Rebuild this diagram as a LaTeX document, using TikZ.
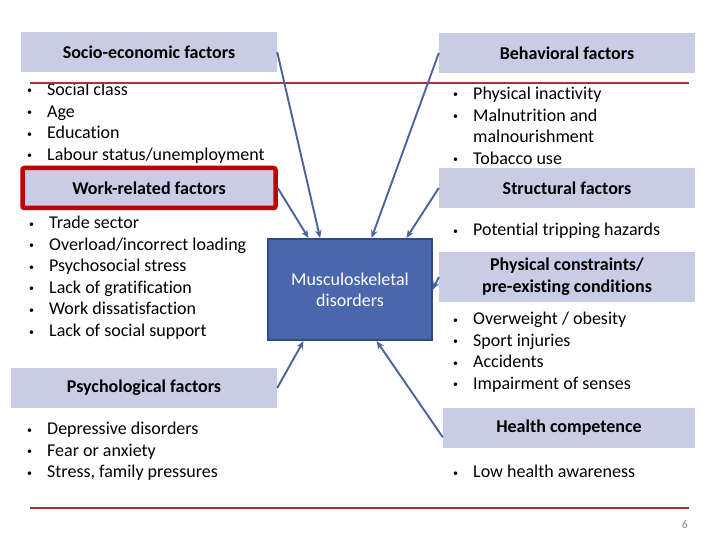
\documentclass[tikz,border=0pt]{standalone}
\usepackage{fontspec}
\setmainfont{Carlito}[Ligatures=NoCommon]
\usetikzlibrary{positioning,arrows.meta,calc}

\definecolor{hdrfill}{HTML}{C9CCE5}
\definecolor{msdfill}{HTML}{4A66AC}
\definecolor{msdline}{HTML}{2F4A85}
\definecolor{arrowblue}{HTML}{4A62A0}
\definecolor{rulered}{HTML}{A53530}
\definecolor{workred}{HTML}{C00000}

\newcommand{\itm}[1]{\makebox[20pt][l]{\raisebox{1.5pt}{\fontsize{10}{10}\selectfont\textbullet}}#1}

\begin{document}
\begin{tikzpicture}[
        x=1pt, y=-1pt,
        every node/.style={font=\fontsize{18}{21.6}\selectfont},
        header/.style={fill=hdrfill, align=center, inner sep=0pt,
                       minimum width=256pt, minimum height=40pt,
                       font=\fontsize{18}{22}\selectfont\bfseries},
        item/.style={anchor=west, inner sep=0pt,
                     text height=13pt, text depth=4pt},
        arrow/.style={-{Stealth[length=8pt,width=6.5pt]}, line width=1.9pt, draw=arrowblue},
        rule/.style={draw=rulered, line width=1.8pt}
    ]
        \useasboundingbox (0,0) rectangle (720,540);

        % factor headers
        \node[header] (soc) at (149,52)  {Socio-economic factors};
        \node[header] (beh) at (567,53)  {Behavioral factors};
        \node[header, draw=workred, line width=4.5pt, rounded corners=2pt,
              minimum width=253pt, minimum height=40pt] (wrk) at (149,188) {Work-related factors};
        \node[header] (str) at (567,188) {Structural factors};
        \node[header, minimum height=50pt] (phy) at (567,277) {Physical constraints/\\pre-existing conditions};
        \node[header, minimum width=266pt] (psy) at (144,388) {Psychological factors};
        \node[header, minimum width=252pt] (hlt) at (569,428) {Health competence};

        % central box
        \node[fill=msdfill, draw=msdline, line width=2pt, text=white, align=center,
              minimum width=164pt, minimum height=101pt, inner sep=0pt,
              font=\fontsize{18}{21}\selectfont] (msd) at (350,289.5) {Musculoskeletal\\disorders};

        % bullet lists
        \foreach \t [count=\i from 0] in {Social class, Age, Education, Labour status/unemployment}
            \node[item] (soc\i) at (27,91+21.6*\i) {\itm{\t}};
        \foreach \t [count=\i from 0] in {Physical inactivity, Malnutrition and}
            \node[item] (beh\i) at (453,95+21.6*\i) {\itm{\t}};
        \node[item] (beh2) at (473,138.5) {malnourishment};
        \node[item] (beh3) at (453,160) {\itm{Tobacco use}};
        \foreach \t [count=\i from 0] in {Trade sector, Overload/incorrect loading, Psychosocial stress,
                Lack of gratification, Work dissatisfaction, Lack of social support}
            \node[item] (wrk\i) at (29,224+21.6*\i) {\itm{\t}};
        \node[item] (str0) at (453,231) {\itm{Potential tripping hazards}};
        \foreach \t [count=\i from 0] in {Overweight / obesity, Sport injuries, Accidents, Impairment of senses}
            \node[item] (phy\i) at (453,320+21.6*\i) {\itm{\t}};
        \foreach \t [count=\i from 0] in {Depressive disorders, Fear or anxiety, {Stress, family pressures}}
            \node[item] (psy\i) at (27,430+21.6*\i) {\itm{\t}};
        \node[item] (hlt0) at (453,473) {\itm{Low health awareness}};

        % rules and page number
        \draw[rule] (30,83) -- (689,83);
        \draw[rule] (30,508) -- (689,508);
        \node[text=black!45, font=\fontsize{12}{14}\selectfont] (pg) at (685,524) {6};

        % arrows into the central box
        \draw[arrow] (soc.east) -- ($(msd.north west)!0.32!(msd.north east)$);
        \draw[arrow] (wrk.east) -- ($(msd.north west)!0.25!(msd.north east)$);
        \draw[arrow] (beh.west) -- ($(msd.north west)!0.63!(msd.north east)$);
        \draw[arrow] (str.west) -- ($(msd.north west)!0.84!(msd.north east)$);
        \draw[arrow] (phy.west) -- (msd.east);
        \draw[arrow] (psy.east) -- ($(msd.south west)!0.22!(msd.south east)$);
        \draw[arrow] ($(hlt.south west)!0.27!(hlt.north west)$) -- ($(msd.south west)!0.66!(msd.south east)$);
    \end{tikzpicture}
\end{document}
